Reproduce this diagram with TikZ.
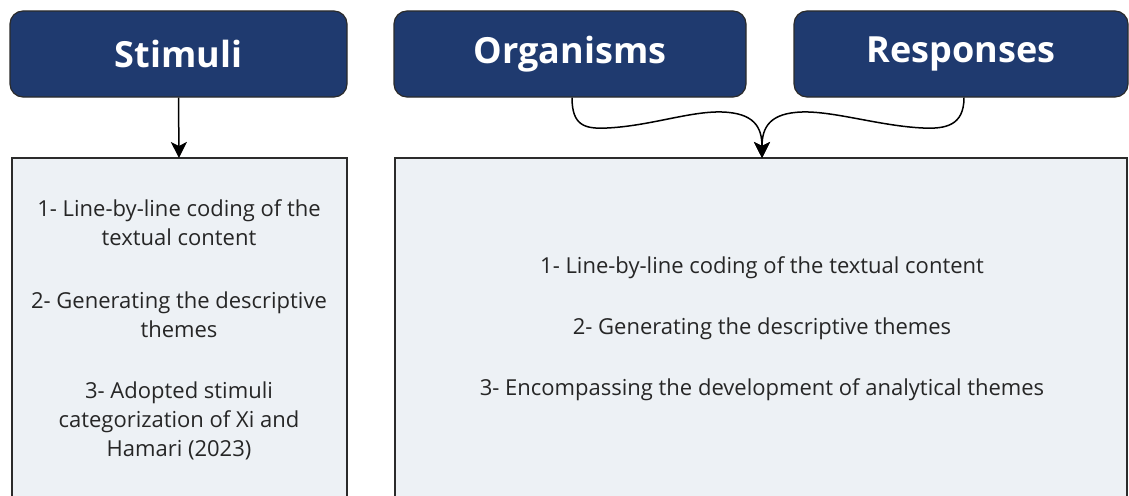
\documentclass[tikz,border=0pt]{standalone}
\usepackage{fontspec}
\setmainfont{Open Sans}
\usetikzlibrary{arrows.meta}
\definecolor{navy}{HTML}{1F3A6F}
\definecolor{panel}{HTML}{EDF1F5}
\definecolor{edge}{HTML}{2B2B2B}
\tikzset{
  header/.style={draw=edge, line width=1.2pt, fill=navy, rounded corners=13pt,
    text=white, font=\fontsize{36}{42}\selectfont\bfseries, inner sep=0pt},
  panelbox/.style={draw=edge, line width=1.4pt, fill=panel},
  itemtext/.style={align=center, font=\fontsize{22}{29}\selectfont, text=black!85, inner sep=0pt},
  link/.style={draw=black, line width=1.5pt, -{Stealth[length=16pt,width=16pt,inset=4pt]}},
}
\begin{document}
\begin{tikzpicture}[x=1pt,y=-1pt]
  \useasboundingbox (0,0) rectangle (1129,495);
  \clip (0,0) rectangle (1129,495);

  % header boxes
  \node[header, minimum width=337pt, minimum height=86pt] (stim) at (178.5,54) {Stimuli};
  \node[header, minimum width=352pt, minimum height=86pt] (org)  at (570,54) {Organisms};
  \node[header, minimum width=334pt, minimum height=86pt] (resp) at (961,54) {Responses};

  % content panels (they run past the lower edge)
  \path[panelbox] (12,158) rectangle (347,520);
  \path[panelbox] (395,158) rectangle (1127,520);
  \coordinate (stimtop) at (179,158);
  \coordinate (ortop) at (762,158);

  % stimuli panel items
  \node[itemtext] (s1) at (179,222.5) {1- Line-by-line coding of the\\textual content};
  \node[itemtext] (s2) at (179,314.5) {2- Generating the descriptive\\themes};
  \node[itemtext] (s3) at (179,420.5) {3- Adopted stimuli\\categorization of Xi and\\Hamari (2023)};

  % organisms / responses panel items
  \node[itemtext] (r1) at (762,268) {1- Line-by-line coding of the textual content};
  \node[itemtext] (r2) at (762,329) {2- Generating the descriptive themes};
  \node[itemtext] (r3) at (762,390) {3- Encompassing the development of analytical themes};

  % connectors
  \draw[link] (stim.south) -- (stimtop);
  \draw[link] ([xshift=2pt]org.south) .. controls (572,126) and (585,129) .. (607,128)
      .. controls (650,126) and (690,111) .. (722,112)
      .. controls (754,113) and (762,127) .. (ortop);
  \draw[link] ([xshift=3pt]resp.south) .. controls (964,126) and (945,129) .. (923,128)
      .. controls (880,126) and (834,111) .. (802,112)
      .. controls (770,113) and (762,127) .. (ortop);
\end{tikzpicture}
\end{document}
